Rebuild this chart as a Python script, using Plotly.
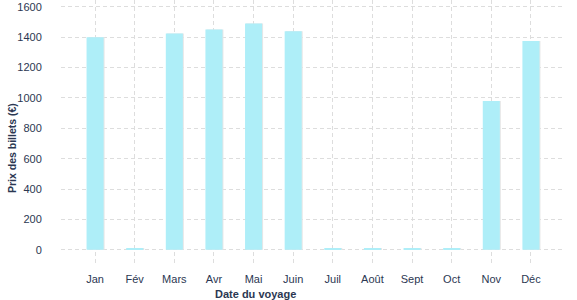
import plotly.graph_objects as go

months = ["Jan", "Fév", "Mars", "Avr", "Mai", "Juin", "Juil", "Août", "Sept", "Oct", "Nov", "Déc"]
prices = [1400, 10, 1425, 1450, 1490, 1440, 10, 10, 10, 10, 980, 1375]
y_ticks = [0, 200, 400, 600, 800, 1000, 1200, 1400, 1600]

navy = "#2b3752"
fig = go.Figure()
fig.add_trace(go.Bar(x=months, y=prices, width=0.43, offset=-0.19,
                     marker=dict(color="#e6e6e6", line=dict(width=0)), hoverinfo="skip"))
fig.add_trace(go.Bar(x=months, y=prices, width=0.43, offset=-0.215,
                     marker=dict(color="#aeeef8", line=dict(width=0))))

pw, ph = 577 - 61 - 12, 300 - 0 - 35
fig.update_layout(
    width=577, height=300, barmode="overlay", showlegend=False,
    margin=dict(l=61, r=12, t=0, b=35),
    plot_bgcolor="white", paper_bgcolor="white",
    font=dict(family="Liberation Sans, Arial", color=navy, size=11),
    xaxis=dict(range=[-0.86, 11.86], showgrid=True, gridcolor="#dddddd", griddash="4px,3px",
               gridwidth=1, ticks="outside", tickcolor="rgba(0,0,0,0)", ticklen=4,
               tickfont=dict(size=11, color=navy), showline=False, zeroline=False),
    yaxis=dict(range=[-100, 1645], tickvals=y_ticks, showgrid=True, gridcolor="#dddddd",
               griddash="4px,3px", gridwidth=1, ticks="outside", tickcolor="rgba(0,0,0,0)",
               ticklen=16, tickfont=dict(size=11, color=navy), zeroline=False, showline=False,
               ticklabeloverflow="allow"),
    annotations=[
        dict(text="<b>Date du voyage</b>", x=(255 - 61) / pw, y=-(294 - 265) / ph,
             xref="paper", yref="paper", showarrow=False, font=dict(size=11, color=navy),
             xanchor="center", yanchor="middle"),
        dict(text="<b>Prix des billets (€)</b>", x=(12 - 61) / pw, y=1 - 148 / ph,
             xref="paper", yref="paper", showarrow=False, textangle=-90,
             font=dict(size=10.5, color=navy), xanchor="center", yanchor="middle"),
    ],
)
fig.write_html("out.html")
